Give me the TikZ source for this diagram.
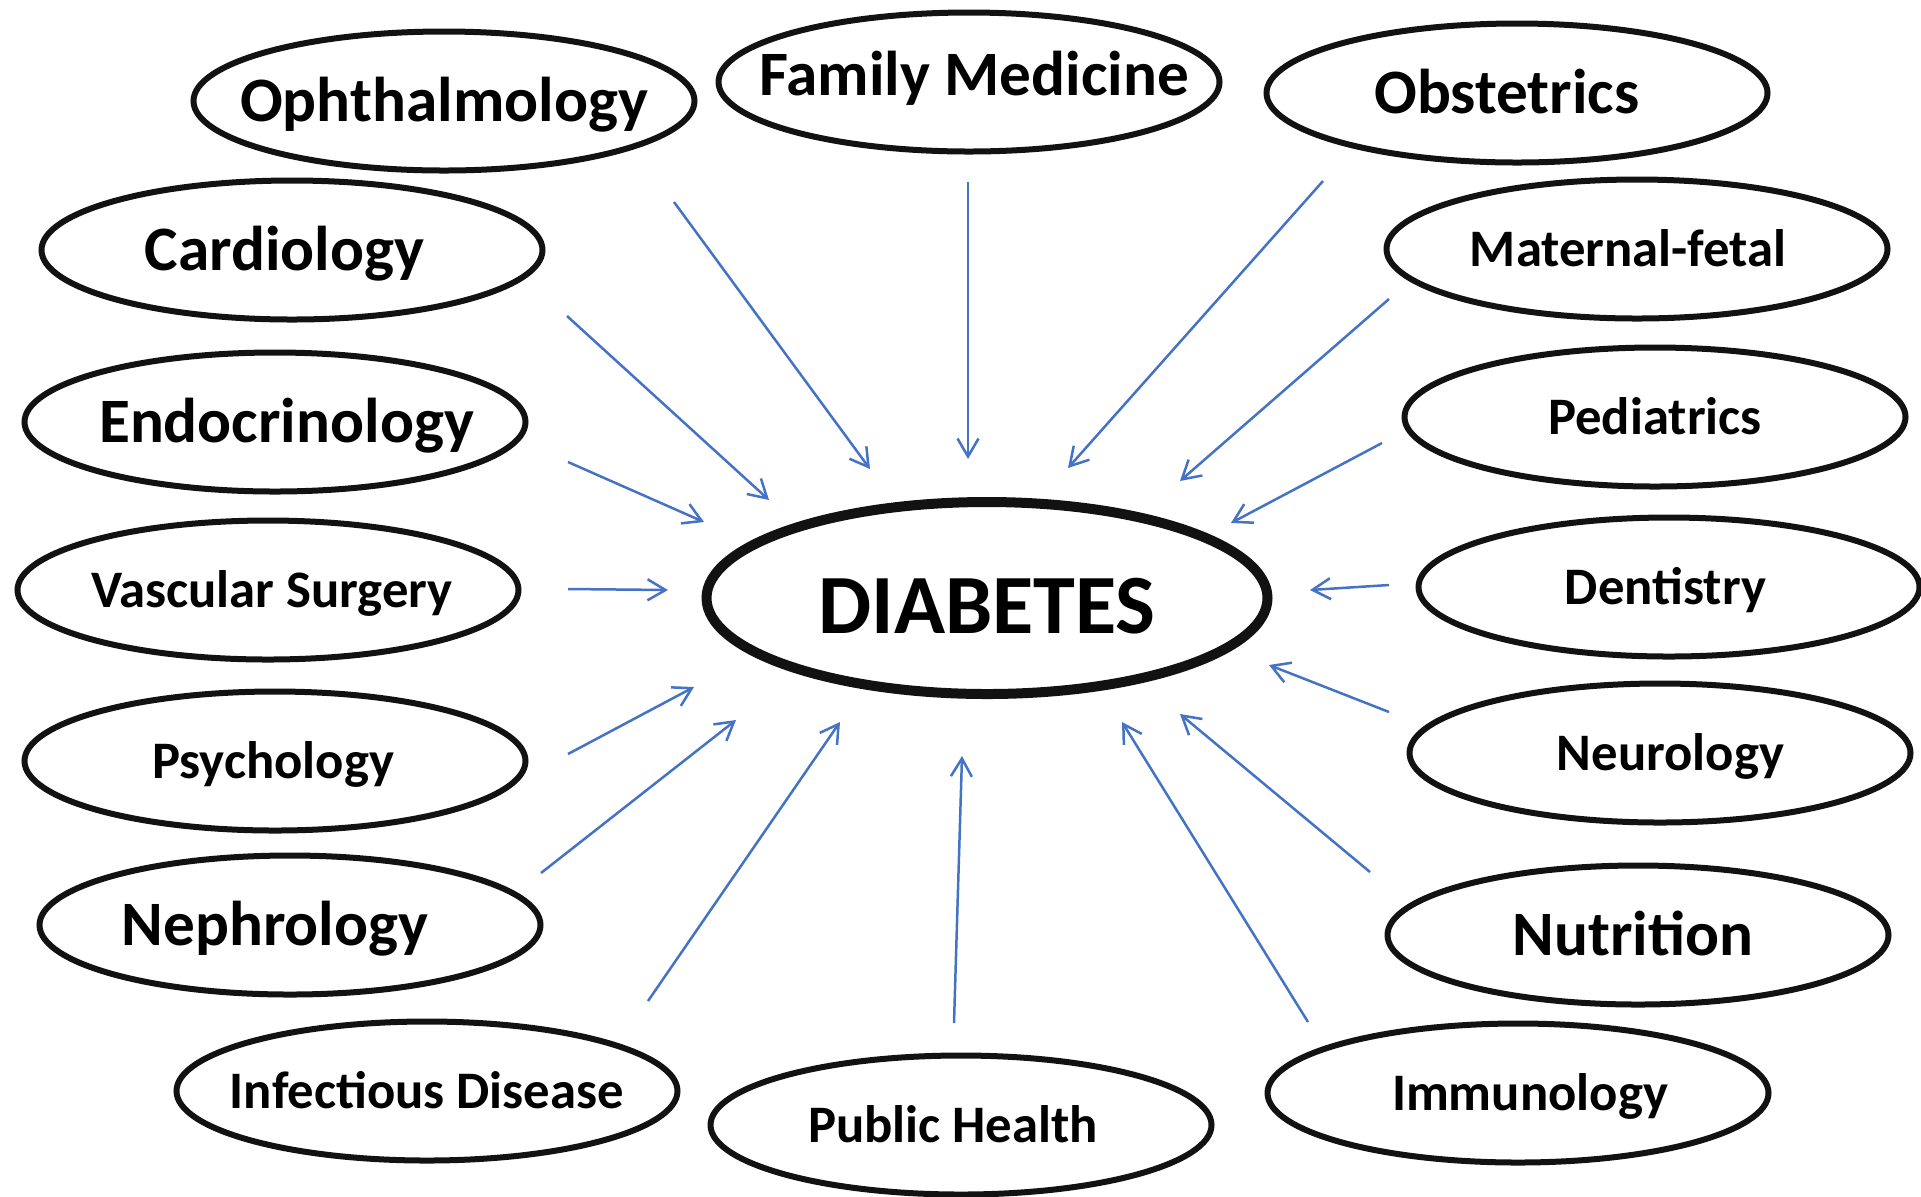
\documentclass[tikz,border=0pt]{standalone}
\usepackage{fontspec}
\setmainfont{Carlito}
\usepackage{tikz}
\usetikzlibrary{shapes.geometric,arrows.meta}

\definecolor{linkblue}{RGB}{68,114,196}

% zero-width label, optionally moved sideways inside its ellipse
\newcommand{\dname}[2][0mm]{\makebox[0pt]{\kern#1\relax#2\kern-#1\relax}}

\tikzset{
  dept/.style={ellipse, draw=black!93, line width=0.6mm, inner sep=0pt,
    minimum width=50.1mm, minimum height=13.9mm, text height=9.7pt, text depth=0pt,
    font=\bfseries\fontsize{15}{17}\selectfont},
  big/.style={text height=11.6pt, font=\bfseries\fontsize{18}{21}\selectfont},
  hub/.style={dept, line width=1mm, minimum width=56.1mm, minimum height=19.2mm,
    text height=20pt, font=\bfseries\fontsize{24}{28}\selectfont},
  link/.style={draw=linkblue, line width=0.25mm, -{Straight Barb[length=1.8mm,width=2.1mm]}}
}

\begin{document}
\begin{tikzpicture}[x=0.1mm, y=-0.1mm]
        \useasboundingbox (0,0) rectangle (1921,1196);
        % centre
        \node[hub] (diab) at (987,598) {\dname{DIABETES}};
        % left column
        \node[dept, big] (ophth) at (444,101) {\dname{Ophthalmology}};
        \node[dept, big] (card) at (292,250) {\dname[-0.75mm]{Cardiology}};
        \node[dept, big] (endo) at (275,422) {\dname[1.15mm]{Endocrinology}};
        \node[dept] (vasc) at (268,590) {\dname[0.4mm]{Vascular Surgery}};
        \node[dept] (psych) at (275,761) {\dname[-0.2mm]{Psychology}};
        \node[dept, big] (neph) at (290,925) {\dname[-1.5mm]{Nephrology}};
        \node[dept] (infect) at (427,1091) {\dname{Infectious Disease}};
        % top and bottom
        \node[dept, big, text height=7.6pt] (fam) at (969,82) {\dname[0.5mm]{Family Medicine}};
        \node[dept] (pub) at (961,1125) {\dname[-0.8mm]{Public Health}};
        % right column
        \node[dept, big] (obst) at (1517,93) {\dname[-1mm]{Obstetrics}};
        \node[dept] (mat) at (1637,249) {\dname[-0.9mm]{Maternal-fetal}};
        \node[dept] (ped) at (1655,417) {\dname{Pediatrics}};
        \node[dept] (dent) at (1669,587) {\dname[-0.35mm]{Dentistry}};
        \node[dept] (neuro) at (1660,753) {\dname[1.05mm]{Neurology}};
        \node[dept, big] (nutr) at (1638,935) {\dname[-0.5mm]{Nutrition}};
        \node[dept] (immun) at (1518,1093) {\dname[1.2mm]{Immunology}};

        % arrow ends, kept clear of the ellipses
        \coordinate (ophth-t) at (674,202);   \coordinate (ophth-h) at (870,469);
        \coordinate (fam-t) at (968,182);     \coordinate (fam-h) at (968,459);
        \coordinate (obst-t) at (1323,181);   \coordinate (obst-h) at (1068,468);
        \coordinate (card-t) at (567,316);    \coordinate (card-h) at (769,500);
        \coordinate (mat-t) at (1389,299);    \coordinate (mat-h) at (1180,481);
        \coordinate (endo-t) at (568,462);    \coordinate (endo-h) at (704,522);
        \coordinate (ped-t) at (1382,443);    \coordinate (ped-h) at (1231,523);
        \coordinate (vasc-t) at (568,589);    \coordinate (vasc-h) at (668,590);
        \coordinate (dent-t) at (1389,585);   \coordinate (dent-h) at (1310,590);
        \coordinate (psych-t) at (568,754);   \coordinate (psych-h) at (694,687);
        \coordinate (neuro-t) at (1389,712);  \coordinate (neuro-h) at (1269,665);
        \coordinate (neph-t) at (541,873);    \coordinate (neph-h) at (736,720);
        \coordinate (nutr-t) at (1370,872);   \coordinate (nutr-h) at (1180,714);
        \coordinate (infect-t) at (648,1001); \coordinate (infect-h) at (840,722);
        \coordinate (pub-t) at (954,1023);    \coordinate (pub-h) at (962,756);
        \coordinate (immun-t) at (1308,1022); \coordinate (immun-h) at (1122,722);

        \draw[link] (ophth-t) -- (ophth-h);
        \draw[link] (fam-t) -- (fam-h);
        \draw[link] (obst-t) -- (obst-h);
        \draw[link] (card-t) -- (card-h);
        \draw[link] (mat-t) -- (mat-h);
        \draw[link] (endo-t) -- (endo-h);
        \draw[link] (ped-t) -- (ped-h);
        \draw[link] (vasc-t) -- (vasc-h);
        \draw[link] (dent-t) -- (dent-h);
        \draw[link] (psych-t) -- (psych-h);
        \draw[link] (neuro-t) -- (neuro-h);
        \draw[link] (neph-t) -- (neph-h);
        \draw[link] (nutr-t) -- (nutr-h);
        \draw[link] (infect-t) -- (infect-h);
        \draw[link] (pub-t) -- (pub-h);
        \draw[link] (immun-t) -- (immun-h);
    \end{tikzpicture}
\end{document}
